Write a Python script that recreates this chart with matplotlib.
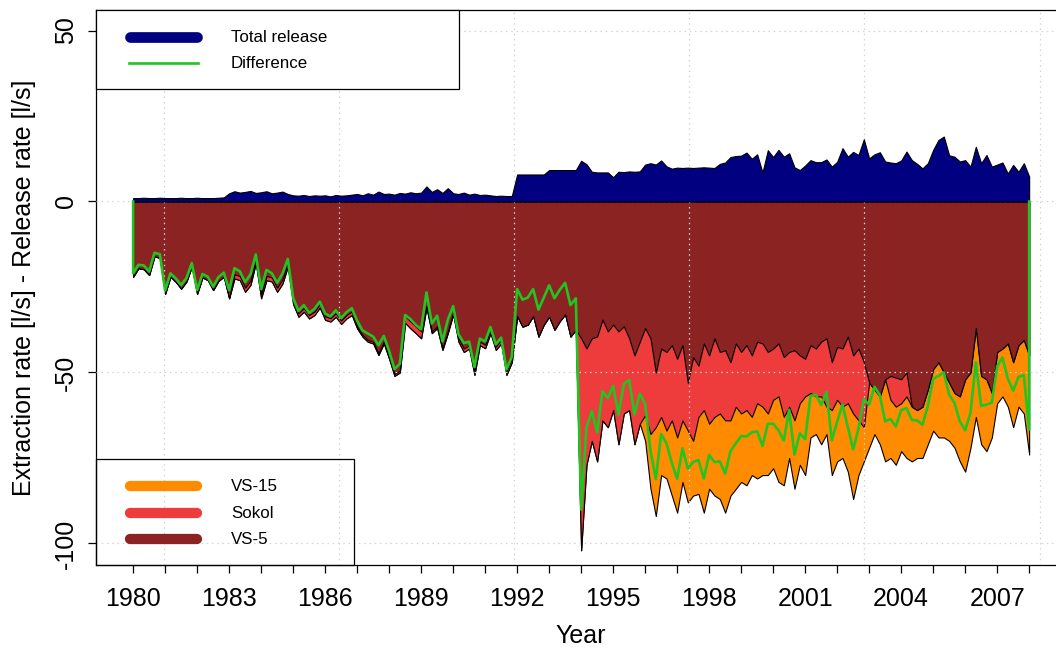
import numpy as np
import pandas as pd
import matplotlib
matplotlib.use("Agg")
import matplotlib.pyplot as plt
from matplotlib.lines import Line2D
from matplotlib.patches import Rectangle

plt.rcParams['font.family'] = ['Liberation Sans', 'DejaVu Sans']

# ---------------- data (bimonthly, 1980-01 .. 2008-01) ----------------
dates = pd.date_range('1980-01-01', '2008-01-01', freq='2MS')
years = (dates.year + (dates.month - 1) / 12.0).to_numpy()

release = [
    1.0, 1.0, 1.1, 1.0, 1.0, 1.1, 1.0, 1.0, 1.0, 1.1, 1.0, 1.0, 1.1, 1.0, 1.0, 1.0, 1.1, 1.2,
    2.4, 3.0, 2.6, 2.8, 3.1, 2.5, 2.7, 3.0, 2.4, 2.6, 2.9, 2.2,
    1.8, 1.7, 1.9, 1.6, 1.8, 1.7, 1.8, 1.5, 1.9, 1.7, 1.8, 2.0,
    2.2, 1.8, 2.4, 2.0, 2.9, 2.2, 2.3, 2.0, 2.5, 2.3, 2.7, 2.4,
    2.6, 4.4, 2.8, 3.6, 2.5, 3.9, 2.4, 2.2, 2.6, 2.0, 2.3, 1.9,
    2.0, 1.8, 1.6, 1.7, 1.6, 1.6,
    7.9, 7.9, 7.9, 7.9, 7.9, 7.9,
    9.2, 9.2, 9.2, 9.2, 9.2, 9.2,
    11.9, 10.9, 8.7, 8.5, 8.5, 8.5,
    7.1, 8.7, 8.6, 8.8, 8.7, 8.8,
    10.8, 11.2, 10.8, 12.0, 10.3, 9.6,
    9.9, 9.8, 9.9, 9.8, 9.9, 10.0,
    9.9, 9.8, 11.0, 11.4, 13.0, 13.3,
    13.4, 14.3, 12.5, 13.8, 8.5, 15.0,
    13.0, 15.1, 13.1, 14.1, 10.0, 9.2,
    10.5, 12.1, 11.5, 11.5, 12.3, 10.2,
    11.6, 15.6, 13.1, 14.5, 13.6, 18.2,
    12.6, 13.8, 14.4, 11.7, 11.4, 11.2,
    12.0, 14.6, 12.1, 11.0, 9.7, 11.2,
    15.1, 18.0, 19.0, 13.5, 13.1, 11.7,
    12.1, 10.2, 16.0, 11.2, 13.6, 10.2,
    10.8, 11.4, 8.2, 10.7, 8.7, 11.2,
    7.3,
]

vs5 = [
    22, 19.5, 19.8, 21.5, 16, 16.5, 27, 22, 23.5, 25.5, 23.4, 19, 27, 22.2, 23, 25.9, 23.2, 22,
    28.3, 21.3, 21.8, 25.2, 23.2, 16.8, 27.1, 21.8, 22.2, 25.2, 22.8, 17.8,
    29, 32.7, 31.2, 33.2, 32.2, 30, 33.6, 34.1, 32.7, 34.8, 33.2, 32.2,
    36.6, 39, 40.5, 41, 44.4, 41, 45.5, 50.5, 49.5, 33.5, 35.1, 36.5,
    38, 30.5, 38, 36.5, 42.9, 38, 32.5, 40, 43, 42, 49.7, 41,
    41.9, 37.5, 42.4, 40.5, 49.7, 46,
    33.5, 36.6, 36, 33.5, 39.5, 36, 33.7, 37.5, 35, 33, 39.5, 37.5,
    40, 43, 40, 39.5, 34.5, 38, 36, 38, 36.5, 40, 45, 41,
    37, 40, 50, 43, 44, 42, 46, 42, 53, 45.5, 48, 41.5,
    45, 40, 44, 43.5, 47, 41.5, 44, 42, 45, 41, 41.5, 44,
    43, 41.5, 45.5, 44, 43.5, 45, 46, 42, 43, 41, 40, 47,
    42.5, 43, 39.5, 45, 43, 47,
    53, 55, 57, 52, 51, 51.5, 52, 50, 60, 61, 60, 55,
    49, 47, 50, 53, 56, 57, 52, 50, 37, 51, 52, 56,
    44, 43, 41.5, 47, 42, 40.5, 45,
]

sokol = (
    [0] * 19 + [1.2] * 11 + [1.0] * 12 + [0.5] * 9 + [2.0] * 4 + [0.5] * 6 + [1.0] * 11
    + [0] * 12
    + [62, 34, 30, 36.5, 29.5, 28, 25, 33, 25.5, 21, 26, 24]
    + [25.5, 28, 16, 20, 23, 22, 23, 22, 14, 24.5, 15, 19.5,
       20, 23, 18, 20.5, 17, 18.5, 18, 19, 18, 18, 18.5, 18]
    + [15, 15.5, 17.5, 16, 20.5, 14, 11, 14, 14, 16, 20, 14,
       15.5, 17, 19.5, 17, 21, 19]
    + [0, 0, 0, 0, 7, 8.5, 7, 7] + [0] * 23
)

vs15 = (
    [0] * 96
    + [7.5, 16, 26, 17, 14, 22, 22, 18, 21, 16, 22.5, 30,
       19, 23, 25, 27, 22, 24, 20, 22, 17, 22, 20, 18]
    + [20, 25, 20, 15, 20, 18, 23, 13, 11, 14, 8, 19,
       18, 15, 20, 25, 16, 10]
    + [19, 13, 14, 24, 17, 17, 14, 18,
       16, 14, 15, 16, 18, 22, 19, 17, 16, 19, 27, 22, 26, 20, 21, 13,
       15, 14, 18.5, 19, 18, 21.5, 29]
)

x_ticks = list(range(1980, 2009))
x_ticklabels = [str(y) if (y - 1980) % 3 == 0 else '' for y in x_ticks]
y_ticks = [50, 0, -50, -100]
y_ticklabels = ['50', '0', '-50', '-100']

# ---------------- derived ----------------
rel = np.array(release, float)
a5 = np.array(vs5, float)
aS = np.array(sokol, float)
a15 = np.array(vs15, float)
lvl1 = -a5
lvl2 = -(a5 + aS)
lvl3 = -(a5 + aS + a15)
diff = rel + lvl3

C_NAVY = '#000080'
C_VS15 = '#FF8C00'
C_SOKOL = '#EE3B3B'
C_VS5 = '#8B2323'
C_GREEN = '#22C322'

W, H = 1056, 652
fig = plt.figure(figsize=(W / 100, H / 100), dpi=100)
L, R, T, B = 96, 1065, 10, 565
ax = fig.add_axes([L / W, 1 - B / H, (R - L) / W, (B - T) / H])
ax.set_xlim(1978.84, 2009.12)
ax.set_ylim(-106.3, 56.0)

ax.fill_between(years, 0, lvl3, facecolor=C_VS15, edgecolor='black', lw=0.8, zorder=2)
ax.fill_between(years, 0, lvl2, facecolor=C_SOKOL, edgecolor='black', lw=0.8, zorder=3)
ax.fill_between(years, 0, lvl1, facecolor=C_VS5, edgecolor='black', lw=0.8, zorder=4)

# grid (R-style dotted light gray, at date-axis pretty positions)
grid_x = [1970 + d / 365.25 for d in (4000, 6000, 8000, 10000, 12000, 14000)]
for gx in grid_x:
    ax.axvline(gx, color='#D3D3D3', lw=0.9, ls=(0, (1.2, 3)), zorder=5)
for gy in y_ticks:
    ax.axhline(gy, color='#D3D3D3', lw=0.9, ls=(0, (1.2, 3)), zorder=5)

ax.fill_between(years, 0, rel, facecolor=C_NAVY, edgecolor='black', lw=0.8, zorder=6)

xl = np.concatenate([[years[0]], years, [years[-1]]])
yl = np.concatenate([[0], diff, [0]])
ax.plot(xl, yl, color=C_GREEN, lw=1.9, zorder=7, solid_joinstyle='round')

# axes styling
for s in ('left', 'bottom', 'top', 'right'):
    ax.spines[s].set_linewidth(0.9)
    ax.spines[s].set_color('black')
ax.set_xticks(x_ticks)
ax.set_xticklabels(x_ticklabels)
ax.set_yticks(y_ticks)
ax.set_yticklabels(y_ticklabels, rotation=90, va='center')
ax.tick_params(axis='both', direction='out', length=6, width=0.9, labelsize=18, color='black')
ax.tick_params(axis='x', pad=10)
ax.tick_params(axis='y', pad=7)

ax.set_xlabel('Year', fontsize=18)
ax.xaxis.label.set_va('center')
ax.xaxis.set_label_coords(0.5, (B - 636) / (B - T))
ax.set_ylabel('Extraction rate [l/s] - Release rate [l/s]', fontsize=18)
ax.yaxis.label.set_va('center')
ax.yaxis.set_label_coords((24 - L) / (R - L), 0.5)

# ---------------- legends (pixel placed) ----------------
def fx(px):
    return px / W

def fy(py):
    return 1 - py / H

# top legend with white background
fig.add_artist(Rectangle((fx(96), fy(89)), fx(459) - fx(96), fy(10) - fy(89),
                         transform=fig.transFigure, facecolor='white',
                         edgecolor='black', lw=0.9, zorder=10))
fig.add_artist(Line2D([fx(130), fx(197)], [fy(37), fy(37)], transform=fig.transFigure,
                      color=C_NAVY, lw=7.7, solid_capstyle='round', zorder=11))
fig.add_artist(Line2D([fx(129), fx(198)], [fy(62.5), fy(62.5)], transform=fig.transFigure,
                      color=C_GREEN, lw=1.9, zorder=11))
fig.text(fx(231), fy(37.5), 'Total release', fontsize=12.2, va='center', ha='left', zorder=12)
fig.text(fx(231), fy(63.5), 'Difference', fontsize=12.2, va='center', ha='left', zorder=12)

# bottom legend (transparent)
fig.add_artist(Rectangle((fx(96), fy(565)), fx(353.5) - fx(96), fy(459) - fy(565),
                         transform=fig.transFigure, facecolor='none',
                         edgecolor='black', lw=0.9, zorder=10))
for yy, col, lab in ((486, C_VS15, 'VS-15'), (512.5, C_SOKOL, 'Sokol'), (539, C_VS5, 'VS-5')):
    fig.add_artist(Line2D([fx(130), fx(197)], [fy(yy), fy(yy)], transform=fig.transFigure,
                          color=col, lw=7.4, solid_capstyle='round', zorder=11))
    fig.text(fx(231), fy(yy + 0.5), lab, fontsize=12.2, va='center', ha='left', zorder=12)

fig.savefig('out.png', dpi=100)
